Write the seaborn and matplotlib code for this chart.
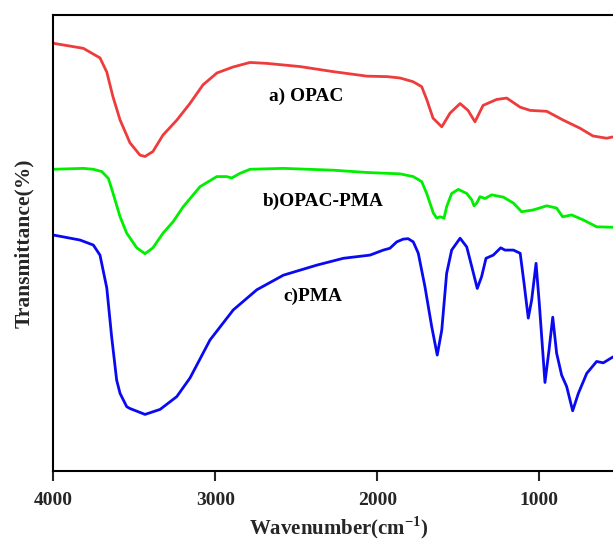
import matplotlib
matplotlib.use("Agg")
import matplotlib.pyplot as plt
import seaborn as sns
import pandas as pd

# FTIR spectra (wavenumber in cm^-1, transmittance in arbitrary offset units)
opac_wn = [4000, 3815, 3712, 3670, 3632, 3588, 3527, 3465, 3434, 3385, 3323, 3237,
           3157, 3076, 2990, 2891, 2786, 2682, 2477, 2274, 2064, 1940, 1860, 1780,
           1726, 1695, 1656, 1602, 1551, 1489, 1440, 1397, 1347, 1263, 1201, 1118,
           1056, 954, 854, 749, 669, 584, 545]
opac_t = [93.8, 92.7, 90.6, 87.5, 82.1, 77.0, 72.0, 69.3, 69.0, 70.1, 73.7, 77.0,
          80.6, 84.7, 87.3, 88.6, 89.6, 89.4, 88.7, 87.6, 86.6, 86.5, 86.2, 85.4,
          84.3, 81.5, 77.4, 75.5, 78.5, 80.6, 79.1, 76.6, 80.2, 81.5, 81.8, 79.8,
          79.1, 78.9, 77.0, 75.2, 73.5, 73.0, 73.3]

opac_pma_wn = [4000, 3815, 3753, 3701, 3660, 3631, 3588, 3547, 3485, 3434, 3385, 3323,
               3261, 3198, 3094, 2991, 2930, 2899, 2848, 2786, 2580, 2272, 2065, 1860,
               1778, 1726, 1695, 1654, 1633, 1613, 1588, 1572, 1541, 1500, 1448, 1417,
               1403, 1386, 1366, 1335, 1294, 1222, 1160, 1109, 1037, 954, 893, 856,
               800, 728, 646, 545]
opac_pma_t = [66.2, 66.4, 66.2, 65.7, 64.2, 60.9, 55.8, 52.2, 49.0, 47.7, 49.0, 52.2,
              54.7, 58.0, 62.4, 64.6, 64.6, 64.3, 65.3, 66.2, 66.4, 66.0, 65.5, 65.2,
              64.6, 63.5, 60.9, 56.6, 55.5, 55.8, 55.5, 58.0, 60.9, 61.8, 60.9, 59.5,
              58.2, 58.8, 60.2, 59.8, 60.6, 60.1, 58.8, 56.9, 57.3, 58.2, 57.7, 55.8,
              56.2, 55.1, 53.6, 53.5]

pma_wn = [4000, 3835, 3753, 3712, 3670, 3640, 3609, 3588, 3547, 3527, 3434, 3341,
          3238, 3156, 3033, 2889, 2744, 2580, 2374, 2210, 2045, 1963, 1922, 1880,
          1840, 1810, 1778, 1747, 1706, 1664, 1630, 1602, 1572, 1541, 1489, 1448,
          1417, 1383, 1356, 1329, 1284, 1238, 1212, 1160, 1118, 1094, 1068, 1047,
          1020, 1000, 965, 940, 917, 893, 862, 831, 794, 759, 707, 646, 605, 545]
pma_t = [51.8, 50.7, 49.6, 47.4, 40.2, 29.5, 20.0, 17.1, 14.2, 13.8, 12.5, 13.6,
         16.4, 20.5, 28.8, 35.4, 39.8, 43.0, 45.2, 46.7, 47.4, 48.5, 48.9, 50.3,
         50.9, 51.0, 50.3, 47.8, 40.5, 31.7, 25.5, 31.0, 43.4, 48.5, 51.1, 49.2,
         44.9, 40.1, 42.7, 46.7, 47.4, 49.0, 48.5, 48.5, 47.8, 41.2, 33.6, 37.6,
         45.6, 36.8, 19.5, 26.6, 33.8, 25.9, 21.1, 18.6, 13.3, 17.1, 21.5, 24.1,
         23.8, 25.1]

series_labels = ["a) OPAC", "b)OPAC-PMA", "c)PMA"]
series_colors = ["#EE3B3B", "#00EE00", "#0A0AF0"]
label_pos_wn = [2440, 2335, 2400]
label_pos_t = [82.1, 59.1, 38.3]
x_ticks = [4000, 3000, 2000, 1000]

frames = []
for name, wn, t in zip(series_labels, [opac_wn, opac_pma_wn, pma_wn],
                       [opac_t, opac_pma_t, pma_t]):
    frames.append(pd.DataFrame({"wavenumber": wn, "transmittance": t, "sample": name}))
spectra = pd.concat(frames, ignore_index=True)

sns.set_style("ticks")
plt.rcParams["font.family"] = ["Liberation Serif", "DejaVu Serif"]
plt.rcParams["font.weight"] = "bold"
plt.rcParams["mathtext.fontset"] = "custom"
plt.rcParams["mathtext.bf"] = "Liberation Serif:bold"
plt.rcParams["mathtext.rm"] = "Liberation Serif:bold"

fig = plt.figure(figsize=(6.13, 5.43), dpi=100)
ax = fig.add_axes([0.087, 0.1317, 0.913, 0.8407])

sns.lineplot(data=spectra, x="wavenumber", y="transmittance", hue="sample",
             palette=dict(zip(series_labels, series_colors)), sort=False,
             estimator=None, linewidth=2.0, legend=False, ax=ax)

for name, x, y in zip(series_labels, label_pos_wn, label_pos_t):
    ax.text(x, y, name, ha="center", va="center", fontsize=13.9,
            fontweight="bold", color="black")

ax.set_xlim(4000, 545)
ax.set_ylim(0, 100)
ax.set_xticks(x_ticks)
ax.set_xticklabels([str(v) for v in x_ticks], fontsize=14, fontweight="bold")
ax.set_yticks([])
ax.tick_params(axis="x", direction="out", length=7, width=1.5, pad=8)
ax.spines["right"].set_visible(False)
for side in ["left", "top", "bottom"]:
    ax.spines[side].set_linewidth(1.5)
    ax.spines[side].set_color("black")

ax.set_xlabel("Wavenumber(cm$^{\\mathbf{-1}}$)", fontsize=15, fontweight="bold")
ax.xaxis.set_label_coords(0.51, -0.094)
ax.set_ylabel("Transmittance(%)", fontsize=15.5, fontweight="bold", labelpad=14)

fig.savefig("out.png", dpi=100)
